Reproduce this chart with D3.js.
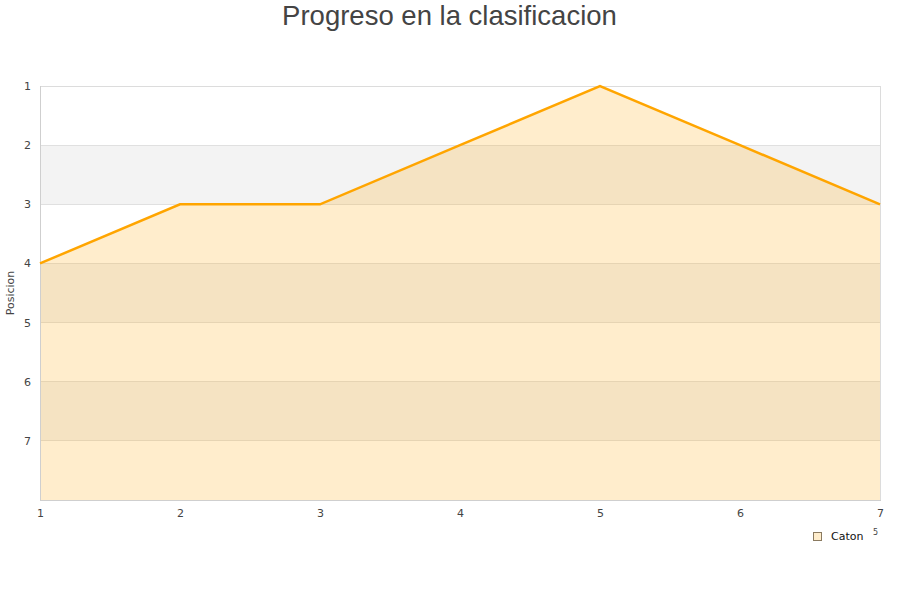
<!DOCTYPE html>
<html><head><meta charset="utf-8">
<script src="https://cdn.jsdelivr.net/npm/d3@7"></script>
<style>body{margin:0;background:#fff;}svg{display:block;}</style>
</head><body><svg id="c" width="900" height="600"></svg>
<script>
const jornadas = [1,2,3,4,5,6,7];
const posiciones = [4,3,3,2,1,2,3];
const yTicks = [1,2,3,4,5,6,7];
const serieNombre = "Caton";
const titulo = "Progreso en la clasificacion";
const yTitulo = "Posicion";

const svg = d3.select("#c");
const m = {l:40, r:20, t:86, b:100};
const W = 900, H = 600;
const x = d3.scaleLinear().domain([1,7]).range([m.l, W-m.r]);
const y = d3.scaleLinear().domain([1,8]).range([m.t, H-m.b]);

// bands
const bands = [1,2,3,4,5,6,7];
svg.append("g").selectAll("rect").data(bands).join("rect")
  .attr("x", x(1)).attr("width", x(7)-x(1))
  .attr("y", d=>y(d)).attr("height", d=>y(d+1)-y(d))
  .attr("fill", (d,i)=> i%2===1 ? "#f3f3f3" : "#ffffff");

// grid lines
svg.append("g").selectAll("line").data([2,3,4,5,6,7]).join("line")
  .attr("x1", x(1)).attr("x2", x(7)).attr("y1", d=>y(d)).attr("y2", d=>y(d))
  .attr("stroke", "#e0e0e0").attr("stroke-width", 1).attr("shape-rendering","crispEdges");

// area
const data = jornadas.map((j,i)=>({j, p: posiciones[i]}));
svg.append("path").datum(data)
  .attr("d", d3.area().x(d=>x(d.j)).y0(y(8)).y1(d=>y(d.p)))
  .attr("fill", "#ffa500").attr("fill-opacity", 0.2);

// frame
svg.append("rect").attr("x", x(1)+0.5).attr("y", y(1)+0.5)
  .attr("width", x(7)-x(1)).attr("height", y(8)-y(1))
  .attr("fill","none").attr("stroke","#dcdcdc").attr("shape-rendering","crispEdges");
svg.append("line").attr("x1", x(1)+0.5).attr("x2", x(1)+0.5).attr("y1", y(1)).attr("y2", y(8)+1)
  .attr("stroke","#cfcfcf").attr("shape-rendering","crispEdges");
svg.append("line").attr("x1", x(1)).attr("x2", x(7)+1).attr("y1", y(8)+0.5).attr("y2", y(8)+0.5)
  .attr("stroke","#cfcfcf").attr("shape-rendering","crispEdges");

// line
svg.append("path").datum(data)
  .attr("d", d3.line().x(d=>x(d.j)).y(d=>y(d.p)))
  .attr("fill","none").attr("stroke","#ffa500").attr("stroke-width",2.5);

// y axis labels
const yAxis = d3.axisLeft(y).tickValues(yTicks).tickSize(0).tickPadding(9).tickFormat(d3.format("d"));
const gy = svg.append("g").attr("transform", `translate(${x(1)},0)`).call(yAxis);
gy.select(".domain").remove();
gy.selectAll("text").attr("font-family","DejaVu Sans").attr("font-size",11).attr("fill","#444");

// x axis labels
const xAxis = d3.axisBottom(x).tickValues(jornadas).tickSize(0).tickPadding(9).tickFormat(d3.format("d"));
const gx = svg.append("g").attr("transform", `translate(0,${y(8)})`).call(xAxis);
gx.select(".domain").remove();
gx.selectAll("text").attr("font-family","DejaVu Sans").attr("font-size",11).attr("fill","#444");

// title
svg.append("text").attr("x", 449.5).attr("y", 25).attr("text-anchor","middle")
  .attr("font-family","Liberation Sans, Arial, sans-serif").attr("font-size",27.5).attr("fill","#444")
  .text(titulo);

// y title
svg.append("text").attr("transform","translate(14,293) rotate(-90)").attr("text-anchor","middle")
  .attr("font-family","DejaVu Sans").attr("font-size",11).attr("fill","#444").text(yTitulo);

// legend
svg.append("rect").attr("x",813.5).attr("y",532.5).attr("width",8).attr("height",8)
  .attr("fill","#ffedcc").attr("stroke","#8a7a60").attr("stroke-width",1);
svg.append("text").attr("x",831).attr("y",540).attr("font-family","DejaVu Sans").attr("font-size",11)
  .attr("fill","#111").text(serieNombre);
svg.append("text").attr("x",873).attr("y",535).attr("font-family","DejaVu Sans").attr("font-size",8)
  .attr("fill","#444").text("5");
</script></body></html>
